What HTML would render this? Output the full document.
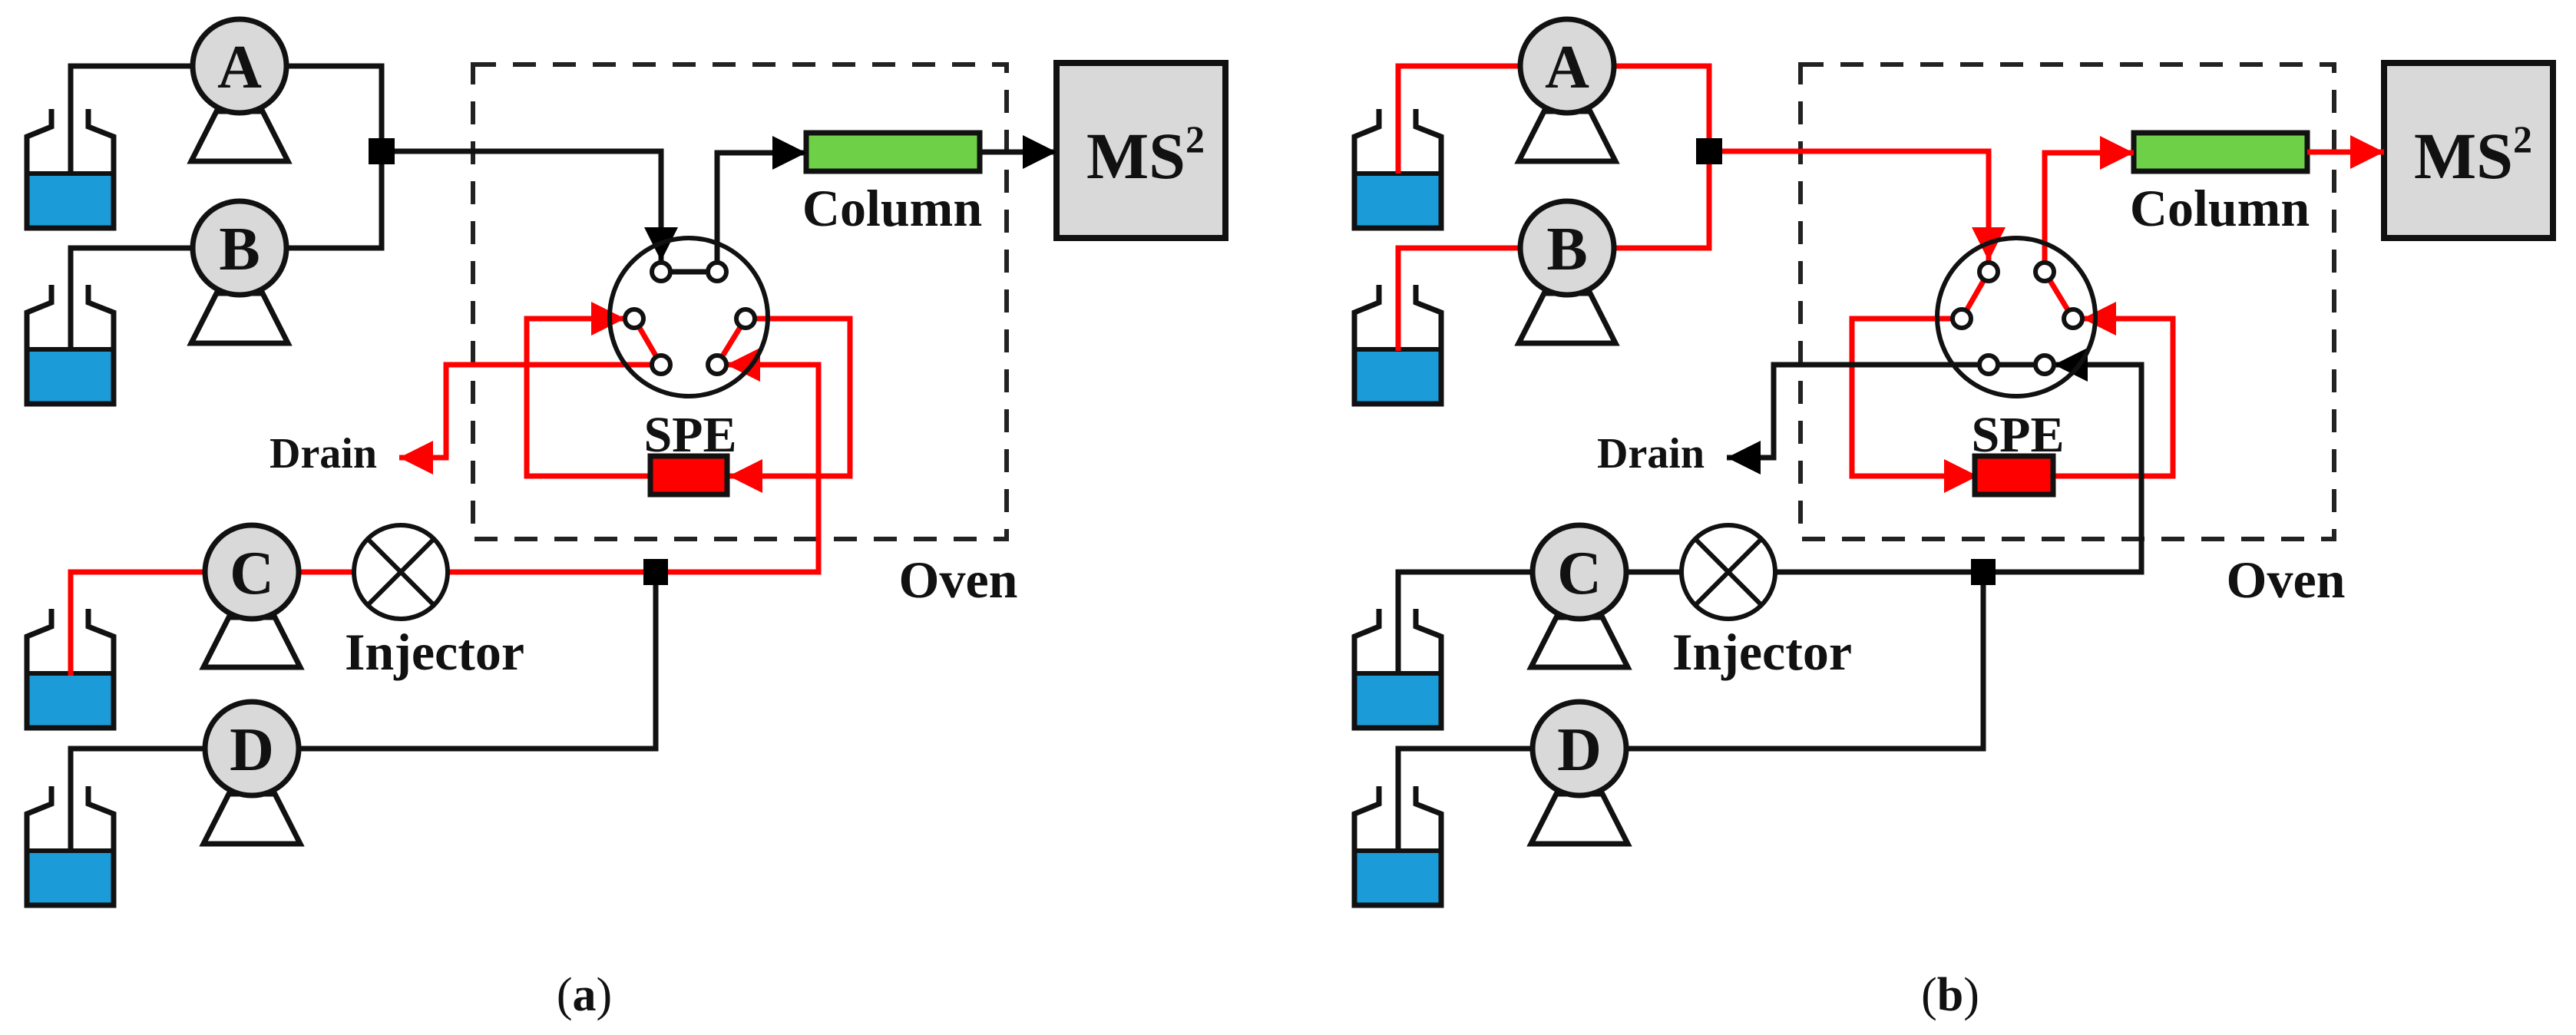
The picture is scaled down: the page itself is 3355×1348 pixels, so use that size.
<!DOCTYPE html>
<html><head><meta charset="utf-8"><style>
html,body{margin:0;padding:0;background:#fff;}
svg{display:block;}
text{font-family:"Liberation Serif",serif;font-weight:bold;fill:#111;}
</style></head><body>
<svg width="3355" height="1348" viewBox="0 0 3355 1348" xmlns="http://www.w3.org/2000/svg">
<defs>
<marker id="ar" markerUnits="userSpaceOnUse" markerWidth="46" markerHeight="46" refX="44" refY="22" orient="auto"><path d="M0,0 L44,22 L0,44 z" fill="#ff0000"/></marker>
<marker id="ak" markerUnits="userSpaceOnUse" markerWidth="46" markerHeight="46" refX="44" refY="22" orient="auto"><path d="M0,0 L44,22 L0,44 z" fill="#000"/></marker>
<g id="bottle">
<rect x="35" y="84" width="113" height="71" fill="#1b9bd7"/>
<path d="M67,0 L67,23 L35,36 L35,155 L148,155 L148,36 L115,23 L115,0" fill="none" stroke="#111" stroke-width="7"/>
<line x1="35" y1="84" x2="148" y2="84" stroke="#111" stroke-width="6"/>
</g>
<g id="pump">
<polygon points="-30,59 30,59 63,124 -63,124" fill="#fff" stroke="#111" stroke-width="7" stroke-linejoin="miter"/>
<circle cx="0" cy="0" r="61" fill="#d9d9d9" stroke="#111" stroke-width="7"/>
</g>
<g id="valve">
<circle cx="897" cy="413" r="103" fill="none" stroke="#111" stroke-width="6"/>
</g>
<g id="ports" fill="#fff" stroke="#111" stroke-width="6">
<circle cx="861" cy="354" r="12"/><circle cx="934" cy="354" r="12"/>
<circle cx="826" cy="415" r="12"/><circle cx="971" cy="415" r="12"/>
<circle cx="861" cy="475" r="12"/><circle cx="934" cy="475" r="12"/>
</g>
<g id="common">
<rect x="616" y="84" width="695" height="618" fill="none" stroke="#222" stroke-width="6" stroke-dasharray="30,22"/>
<use href="#bottle" x="0" y="142"/>
<use href="#bottle" x="0" y="371"/>
<use href="#bottle" x="0" y="793"/>
<use href="#bottle" x="0" y="1024"/>
<rect x="1050" y="173" width="226" height="50" fill="#6dd046" stroke="#111" stroke-width="7"/>
<rect x="1376" y="82" width="220" height="228" fill="#d9d9d9" stroke="#111" stroke-width="8"/>
<text x="1492" y="232" font-size="86" text-anchor="middle">MS<tspan font-size="50" dy="-34">2</tspan></text>
<text x="1162" y="294" font-size="68" text-anchor="middle">Column</text>
<text x="899" y="588" font-size="66" text-anchor="middle">SPE</text>
<text x="421" y="609" font-size="56" text-anchor="middle">Drain</text>
<text x="566" y="872" font-size="68" text-anchor="middle">Injector</text>
<text x="1248" y="778" font-size="68" text-anchor="middle">Oven</text>
<!-- D line -->
<path d="M92,1108 L92,975 L270,975" fill="none" stroke="#111" stroke-width="7"/>
<path d="M386,975 L854,975 L854,745" fill="none" stroke="#111" stroke-width="7"/>
</g>
<g id="pumps">
<use href="#pump" x="312" y="86"/>
<use href="#pump" x="312" y="323"/>
<use href="#pump" x="328" y="745"/>
<use href="#pump" x="328" y="975"/>
<text x="312" y="114" font-size="80" text-anchor="middle">A</text>
<text x="312" y="351" font-size="80" text-anchor="middle">B</text>
<text x="328" y="773" font-size="80" text-anchor="middle">C</text>
<text x="328" y="1003" font-size="80" text-anchor="middle">D</text>
<circle cx="522" cy="745" r="61" fill="#fff" stroke="#111" stroke-width="6"/>
<line x1="479" y1="702" x2="565" y2="788" stroke="#111" stroke-width="6"/>
<line x1="565" y1="702" x2="479" y2="788" stroke="#111" stroke-width="6"/>
</g>
</defs>

<!-- Panel (a) -->
<g>
<use href="#common"/>
<g fill="none" stroke-width="7" stroke-linejoin="miter">
<!-- A/B black -->
<path d="M92,226 L92,86 L255,86" stroke="#111"/>
<path d="M370,86 L497,86 L497,323 L370,323" stroke="#111"/>
<path d="M92,457 L92,323 L255,323" stroke="#111"/>
<path d="M497,197 L861,197 L861,340" stroke="#111" marker-end="url(#ak)"/>
<line x1="861" y1="354" x2="934" y2="354" stroke="#111"/>
<path d="M934,342 L934,199 L1050,199" stroke="#111" marker-end="url(#ak)"/>
<path d="M1276,198 L1376,198" stroke="#111" marker-end="url(#ak)"/>
<!-- red -->
<line x1="826" y1="415" x2="861" y2="475" stroke="#ff0000"/>
<line x1="971" y1="415" x2="934" y2="475" stroke="#ff0000"/>
<path d="M849,475 L581,475 L581,596 L520,596" stroke="#ff0000" marker-end="url(#ar)"/>
<path d="M847,620 L686,620 L686,415 L814,415" stroke="#ff0000" marker-end="url(#ar)"/>
<path d="M983,415 L1107,415 L1107,620 L949,620" stroke="#ff0000" marker-end="url(#ar)"/>
<path d="M92,880 L92,745 L270,745" stroke="#ff0000"/>
<path d="M386,745 L462,745" stroke="#ff0000"/>
<path d="M582,745 L1066,745 L1066,475 L946,475" stroke="#ff0000" marker-end="url(#ar)"/>
</g>
<use href="#valve"/>
<use href="#ports"/>
<rect x="847" y="594" width="100" height="50" fill="#ff0000" stroke="#111" stroke-width="7"/>
<rect x="480" y="180" width="34" height="34" fill="#000"/>
<rect x="838" y="728" width="32" height="34" fill="#000"/>
<use href="#pumps"/>
<text x="761" y="1316" font-size="62" text-anchor="middle" style="font-weight:normal">(<tspan style="font-weight:bold">a</tspan>)</text>
</g>

<!-- Panel (b) -->
<g transform="translate(1729,0)">
<use href="#common"/>
<g fill="none" stroke-width="7" stroke-linejoin="miter">
<path d="M92,226 L92,86 L255,86" stroke="#ff0000"/>
<path d="M370,86 L497,86 L497,323 L370,323" stroke="#ff0000"/>
<path d="M92,457 L92,323 L255,323" stroke="#ff0000"/>
<path d="M497,197 L861,197 L861,340" stroke="#ff0000" marker-end="url(#ar)"/>
<path d="M934,342 L934,199 L1050,199" stroke="#ff0000" marker-end="url(#ar)"/>
<path d="M1276,198 L1376,198" stroke="#ff0000" marker-end="url(#ar)"/>
<line x1="861" y1="354" x2="826" y2="415" stroke="#ff0000"/>
<line x1="934" y1="354" x2="971" y2="415" stroke="#ff0000"/>
<path d="M814,415 L683,415 L683,620 L847,620" stroke="#ff0000" marker-end="url(#ar)"/>
<path d="M947,620 L1101,620 L1101,415 L983,415" stroke="#ff0000" marker-end="url(#ar)"/>
<line x1="861" y1="475" x2="934" y2="475" stroke="#111"/>
<path d="M849,475 L581,475 L581,596 L520,596" stroke="#111" marker-end="url(#ak)"/>
<path d="M92,880 L92,745 L270,745" stroke="#111"/>
<path d="M386,745 L462,745" stroke="#111"/>
<path d="M582,745 L1060,745 L1060,475 L946,475" stroke="#111" marker-end="url(#ak)"/>
</g>
<use href="#valve"/>
<use href="#ports"/>
<rect x="843" y="594" width="102" height="50" fill="#ff0000" stroke="#111" stroke-width="7"/>
<rect x="480" y="180" width="34" height="34" fill="#000"/>
<rect x="838" y="728" width="32" height="34" fill="#000"/>
<use href="#pumps"/>
<text x="811" y="1316" font-size="62" text-anchor="middle" style="font-weight:normal">(<tspan style="font-weight:bold">b</tspan>)</text>
</g>
</svg>
</body></html>
